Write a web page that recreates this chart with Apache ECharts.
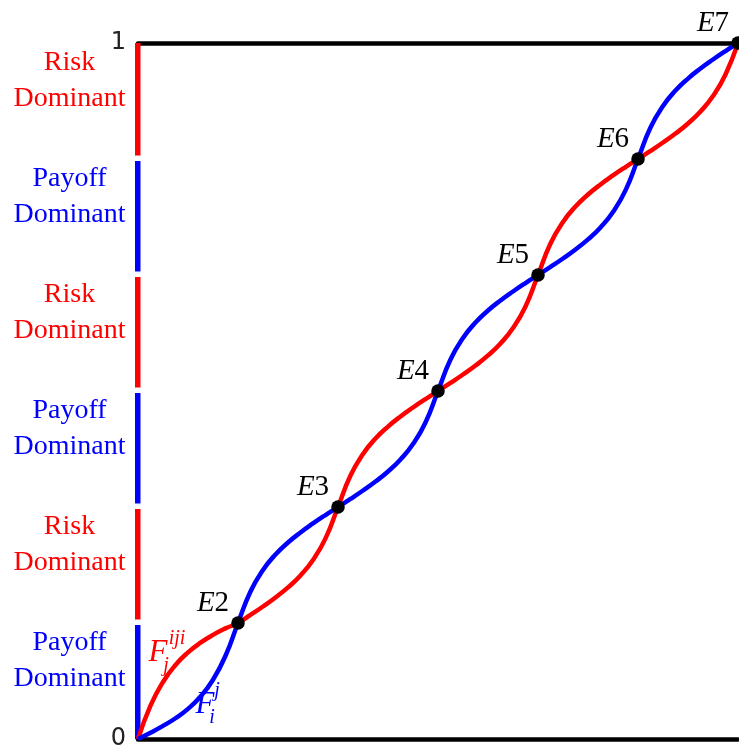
<!DOCTYPE html>
<html>
<head>
<meta charset="utf-8">
<script src="https://cdn.jsdelivr.net/npm/echarts@6/dist/echarts.min.js"></script>
<style>
  html, body { margin: 0; padding: 0; background: #fff; }
  #chart { width: 739px; height: 749px; }
</style>
</head>
<body>
<div id="chart"></div>
<script>
// Shared x grid for both best-response curves
const xs = [
  0, 0.02083, 0.04167, 0.0625, 0.08333, 0.10417, 0.125, 0.14583,
  0.16667, 0.1875, 0.20833, 0.22917, 0.25, 0.27083, 0.29167, 0.3125,
  0.33333, 0.35417, 0.375, 0.39583, 0.41667, 0.4375, 0.45833, 0.47917,
  0.5, 0.52083, 0.54167, 0.5625, 0.58333, 0.60417, 0.625, 0.64583,
  0.66667, 0.6875, 0.70833, 0.72917, 0.75, 0.77083, 0.79167, 0.8125,
  0.83333, 0.85417, 0.875, 0.89583, 0.91667, 0.9375, 0.95833, 0.97917,
  1
];

// F_j^{iji} (red)
const redCurve = [
  0, 0.0479, 0.0819, 0.1064, 0.1244, 0.1384, 0.1496, 0.1589,
  0.16667, 0.1783, 0.1904, 0.2033, 0.2178, 0.2350, 0.2572, 0.2882,
  0.33333, 0.3785, 0.4095, 0.4317, 0.4489, 0.4634, 0.4763, 0.4884,
  0.5, 0.5116, 0.5237, 0.5366, 0.5511, 0.5683, 0.5905, 0.6215,
  0.66667, 0.7119, 0.7429, 0.7651, 0.7823, 0.7968, 0.8097, 0.8218,
  0.83333, 0.8449, 0.8570, 0.8699, 0.8844, 0.9016, 0.9238, 0.9548,
  1
];

// F_i^j (blue)
const blueCurve = [
  0, 0.0090, 0.0188, 0.0298, 0.0433, 0.0611, 0.0851, 0.1196,
  0.16667, 0.2119, 0.2429, 0.2651, 0.2823, 0.2968, 0.3097, 0.3218,
  0.33333, 0.3449, 0.3570, 0.3699, 0.3844, 0.4016, 0.4238, 0.4548,
  0.5, 0.5452, 0.5762, 0.5984, 0.6156, 0.6301, 0.6430, 0.6551,
  0.66667, 0.6783, 0.6904, 0.7033, 0.7178, 0.7350, 0.7572, 0.7882,
  0.83333, 0.8785, 0.9095, 0.9317, 0.9489, 0.9634, 0.9763, 0.9884,
  1
];

// Equilibria where the curves cross
const eqNames = ['2', '3', '4', '5', '6', '7'];
const eqX = [0.16667, 0.33333, 0.5, 0.66667, 0.83333, 1];
const eqY = [0.16667, 0.33333, 0.5, 0.66667, 0.83333, 1];

// Dominance bands along the vertical axis (bottom to top)
const bandEdges = [0, 0.16667, 0.33333, 0.5, 0.66667, 0.83333, 1];
const bandKinds = ['payoff', 'risk', 'payoff', 'risk', 'payoff', 'risk'];
const bandText = { risk: 'Risk\nDominant', payoff: 'Payoff\nDominant' };

const yTickLabels = { 0: '0', 1: '1' };

const RED = '#ff0000';
const BLUE = '#0000ff';
const SERIF = '"Liberation Serif", "DejaVu Serif", serif';

const chart = echarts.init(document.getElementById('chart'), null, { renderer: 'canvas' });

const bandData = bandKinds.map((k, i) => [bandEdges[i], bandEdges[i + 1], i]);

function renderBand(params, api) {
  const lo = api.value(0), hi = api.value(1), idx = api.value(2);
  const kind = bandKinds[idx];
  const color = kind === 'risk' ? RED : BLUE;
  const pLo = api.coord([0, lo]);
  const pHi = api.coord([0, hi]);
  const gapLo = lo > 0 ? 3.5 : 0;
  const gapHi = hi < 1 ? 2 : 0;
  const top = pHi[1] + gapHi;
  const bottom = pLo[1] - gapLo;
  const midY = (pLo[1] + pHi[1]) / 2;
  return {
    type: 'group',
    children: [
      {
        type: 'rect',
        shape: { x: pLo[0] - 3, y: top, width: 5.5, height: bottom - top },
        style: { fill: color }
      },
      {
        type: 'text',
        x: pLo[0] - 68.5,
        y: midY - 20,
        style: {
          text: bandText[kind],
          fill: color,
          font: '28px ' + SERIF,
          lineHeight: 36,
          align: 'center',
          verticalAlign: 'middle'
        }
      }
    ]
  };
}

// Curve name annotations: F with superscript and subscript
const curveLabels = [
  { at: [0.0333, 0.1236], sup: 'iji', sub: 'j', color: RED, supDx: 19, subDx: 8 },
  { at: [0.1117, 0.0488], sup: 'j', sub: 'i', color: BLUE, supDx: 12, subDx: 7 }
];

function renderCurveLabel(params, api) {
  const item = curveLabels[params.dataIndex];
  const p = api.coord([api.value(0), api.value(1)]);
  const mk = (text, dx, dy, size) => ({
    type: 'text',
    x: p[0] + dx,
    y: p[1] + dy,
    style: {
      text: text,
      fill: item.color,
      font: 'italic ' + size + 'px ' + SERIF,
      align: 'center',
      verticalAlign: 'middle'
    }
  });
  return {
    type: 'group',
    children: [
      mk('F', 0, 0, 31),
      mk(item.sup, item.supDx, -14, 20),
      mk(item.sub, item.subDx, 13, 20)
    ]
  };
}

const baseXAxis = {
  type: 'value',
  min: 0,
  max: 1,
  axisLine: { show: true, onZero: false, lineStyle: { color: '#000', width: 4.5 } },
  axisTick: { show: false },
  axisLabel: { show: false },
  splitLine: { show: false }
};

chart.setOption({
  animation: false,
  backgroundColor: '#fff',
  grid: { left: 138, right: 1, top: 43, bottom: 10, containLabel: false, outerBoundsMode: 'none' },
  xAxis: [
    Object.assign({}, baseXAxis, { position: 'bottom' }),
    Object.assign({}, baseXAxis, { position: 'top' })
  ],
  yAxis: {
    type: 'value',
    min: 0,
    max: 1,
    interval: 1,
    axisLine: { show: false },
    axisTick: { show: false },
    splitLine: { show: false },
    axisLabel: {
      margin: 12,
      padding: [6, 0, 0, 0],
      fontFamily: '"DejaVu Sans", sans-serif',
      fontSize: 24,
      color: '#222',
      formatter: v => yTickLabels[v] !== undefined ? yTickLabels[v] : ''
    }
  },
  series: [
    {
      type: 'custom',
      name: 'bands',
      renderItem: renderBand,
      data: bandData,
      clip: false,
      silent: true
    },
    {
      type: 'line',
      name: 'F_j^iji',
      data: xs.map((x, i) => [x, redCurve[i]]),
      showSymbol: false,
      symbol: 'none',
      smooth: 0.5,
      lineStyle: { color: RED, width: 4.5 },
      clip: false,
      z: 3
    },
    {
      type: 'line',
      name: 'F_i^j',
      data: xs.map((x, i) => [x, blueCurve[i]]),
      showSymbol: false,
      symbol: 'none',
      smooth: 0.5,
      lineStyle: { color: BLUE, width: 4.5 },
      clip: false,
      z: 4
    },
    {
      type: 'scatter',
      name: 'equilibria',
      data: eqX.map((x, i) => [x, eqY[i]]),
      symbol: 'circle',
      symbolSize: 13.5,
      itemStyle: { color: '#000', opacity: 1 },
      clip: false,
      z: 5,
      label: {
        show: true,
        position: 'inside',
        offset: [-25, -20],
        align: 'center',
        verticalAlign: 'middle',
        color: '#000',
        opacity: 1,
        formatter: p => '{e|E}{n|' + eqNames[p.dataIndex] + '}',
        rich: {
          e: { fontFamily: SERIF, fontStyle: 'italic', fontSize: 29, color: '#000' },
          n: { fontFamily: SERIF, fontSize: 29, color: '#000' }
        }
      }
    },
    {
      type: 'custom',
      name: 'curve labels',
      renderItem: renderCurveLabel,
      data: curveLabels.map(c => c.at),
      clip: false,
      silent: true,
      z: 6
    }
  ]
});
</script>
</body>
</html>
